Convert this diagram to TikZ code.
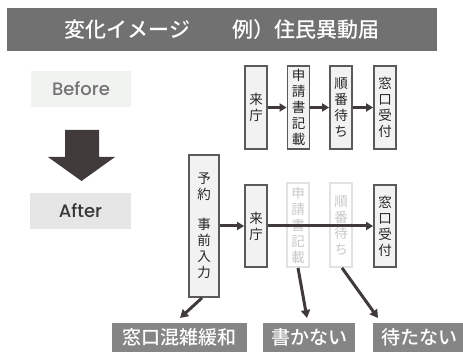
\documentclass[tikz,border=0pt]{standalone}
\usepackage{fontspec}
\newfontfamily\jp{Noto Sans CJK JP}
\newfontfamily\jpm{Noto Sans CJK JP Medium}
\newfontfamily\lat{Poppins Medium}
\usetikzlibrary{arrows.meta,calc}
\definecolor{titlegray}{HTML}{717171}
\definecolor{labelgray}{HTML}{858585}
\definecolor{darkarrow}{HTML}{403A3A}
\definecolor{boxfill}{HTML}{F1F2F1}
\definecolor{boxline}{HTML}{5A5A5A}
\definecolor{ghostline}{HTML}{E2E2E2}
\definecolor{ghosttext}{HTML}{C8C8C8}
\definecolor{beforefill}{HTML}{F1F3F1}
\definecolor{afterfill}{HTML}{E6E6E6}
\tikzset{
  stepbox/.style={draw=boxline, line width=1.8pt, fill=boxfill, minimum width=22pt,
    minimum height=83pt, inner sep=0pt, align=center,
    font=\jp\fontsize{13.5}{16}\selectfont, text=black!85},
  ghostbox/.style={stepbox, draw=ghostline, fill=white, text=ghosttext},
  flow/.style={darkarrow, line width=3pt, -{Triangle[length=7pt,width=8pt]}},
  diag/.style={darkarrow, line width=3pt, -{Triangle[length=8pt,width=9pt]}},
  resultlabel/.style={fill=labelgray, text=white, minimum height=29pt, inner sep=0pt,
    font=\jpm\fontsize{19}{19}\selectfont},
}
\begin{document}
\begin{tikzpicture}[x=1pt,y=-1pt]
\useasboundingbox (0,0) rectangle (463,352);
% title
\node[fill=titlegray, minimum width=430pt, minimum height=43pt, inner sep=0pt,
  text=white, font=\jpm\fontsize{21}{21}\selectfont] (title) at (222,29.5)
  {変化イメージ　　例）住民異動届};
% before / after
\node[fill=beforefill, minimum width=100pt, minimum height=36pt, inner sep=0pt,
  text=black!55, font=\lat\fontsize{18}{18}\selectfont] (before) at (81,89) {Before};
\node[fill=afterfill, minimum width=101pt, minimum height=36pt, inner sep=0pt,
  text=black!78, font=\lat\fontsize{18}{18}\selectfont] (after) at (80.5,211) {After};
\fill[darkarrow] (65,130) -- (99,130) -- (99,157) -- (115,157) -- (81.5,181)
  -- (48,157) -- (65,157) -- cycle;
% top row
\node[stepbox] (t1) at (256,107.5) {来\\庁};
\node[stepbox] (t2) at (298.5,107.5) {申\\請\\書\\記\\載};
\node[stepbox] (t3) at (341,107.5) {順\\番\\待\\ち};
\node[stepbox] (t4) at (385,107.5) {窓\\口\\受\\付};
\draw[flow] (t1) -- (t2);
\draw[flow] (t2) -- (t3);
\draw[flow] (t3) -- (t4);
% bottom row
\node[stepbox, minimum width=30pt, minimum height=142pt] (yoyaku) at (204,226)
  {予\\約\\[14pt]事\\前\\入\\力};
\node[stepbox, minimum height=82pt] (b1) at (256,226) {来\\庁};
\node[ghostbox, minimum height=84pt] (g1) at (298,225) {申\\請\\書\\記\\載};
\node[ghostbox, minimum height=84pt] (g2) at (341,225) {順\\番\\待\\ち};
\node[stepbox, minimum height=82pt] (b4) at (385,226) {窓\\口\\受\\付};
\draw[flow] (yoyaku.east |- b1) -- (b1);
\draw[flow] (b1) -- (b4);
% results
\node[resultlabel, minimum width=135pt] (r1) at (179.5,337.5) {窓口混雑緩和};
\node[resultlabel, minimum width=92pt] (r2) at (309,337.5) {書かない};
\node[resultlabel, minimum width=92pt] (r3) at (419,337.5) {待たない};
\coordinate (e1) at (180,318);
\coordinate (e2) at (307,318);
\coordinate (e3) at (378,318);
\draw[diag] ($(yoyaku.south)+(-2,0)$) -- (e1);
\draw[diag] (g1.south) -- (e2);
\draw[diag] ($(g2.south)+(1,0)$) -- (e3);
\end{tikzpicture}
\end{document}
